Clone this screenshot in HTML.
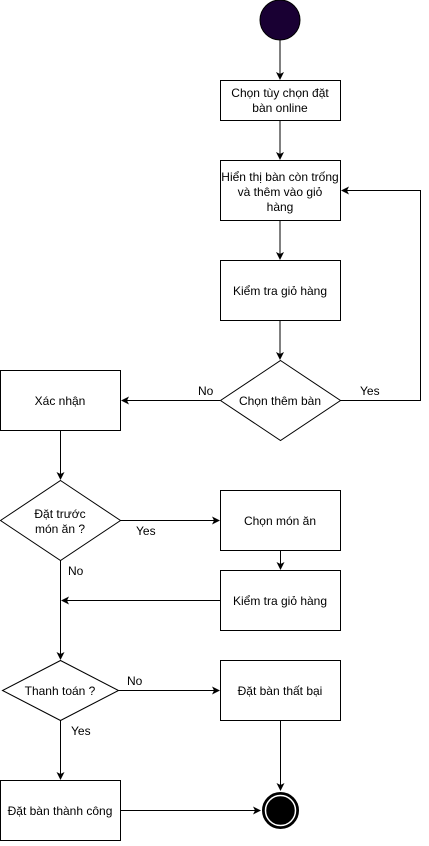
<!DOCTYPE html>
<html><head><meta charset="utf-8"><style>
body{margin:0;background:#fff;}
svg text{font-family:"Liberation Sans",Arial,sans-serif;font-size:12px;fill:#000;}
</style></head><body>
<svg width="429" height="841" viewBox="0 0 429 841" xmlns="http://www.w3.org/2000/svg">
<defs><marker id="a" markerWidth="8" markerHeight="8" refX="7" refY="4" orient="auto" markerUnits="userSpaceOnUse"><path d="M0,0 L8,4 L0,8 L2,4 Z" fill="#000"/></marker></defs>
<g fill="none" stroke="#000" stroke-width="1">
<circle cx="280" cy="20" r="20" fill="#190033"/>
<line x1="280" y1="40" x2="280" y2="79" marker-end="url(#a)"/>
<rect x="220.5" y="80.5" width="120" height="40" fill="#fff"/>
<line x1="280" y1="120" x2="280" y2="159" marker-end="url(#a)"/>
<rect x="220.5" y="160.5" width="120" height="60" fill="#fff"/>
<line x1="280" y1="220" x2="280" y2="259" marker-end="url(#a)"/>
<rect x="220.5" y="260.5" width="120" height="60" fill="#fff"/>
<line x1="280" y1="320" x2="280" y2="359" marker-end="url(#a)"/>
<polygon points="280.5,360.5 340.5,400.5 280.5,440.5 220.5,400.5" fill="#fff"/>
<polyline points="340.5,400.5 420.5,400.5 420.5,190.5 342,190.5" marker-end="url(#a)"/>
<line x1="220" y1="400.5" x2="122" y2="400.5" marker-end="url(#a)"/>
<rect x="0.5" y="370.5" width="120" height="60" fill="#fff"/>
<line x1="60.5" y1="430" x2="60.5" y2="479" marker-end="url(#a)"/>
<polygon points="60.5,480.5 120.5,520.5 60.5,560.5 0.5,520.5" fill="#fff"/>
<line x1="120" y1="520.5" x2="219" y2="520.5" marker-end="url(#a)"/>
<rect x="220.5" y="490.5" width="120" height="60" fill="#fff"/>
<line x1="280.5" y1="550" x2="280.5" y2="569" marker-end="url(#a)"/>
<rect x="220.5" y="570.5" width="120" height="60" fill="#fff"/>
<line x1="220" y1="600.5" x2="62" y2="600.5" marker-end="url(#a)"/>
<line x1="60.5" y1="560" x2="60.5" y2="659" marker-end="url(#a)"/>
<polygon points="60.5,660.5 118.5,690.5 60.5,720.5 2.5,690.5" fill="#fff"/>
<line x1="118" y1="690.5" x2="219" y2="690.5" marker-end="url(#a)"/>
<rect x="220.5" y="660.5" width="120" height="60" fill="#fff"/>
<line x1="60.5" y1="720" x2="60.5" y2="779" marker-end="url(#a)"/>
<rect x="0.5" y="780.5" width="120" height="60" fill="#fff"/>
<line x1="280.5" y1="720" x2="280.5" y2="790" marker-end="url(#a)"/>
<line x1="120" y1="810.5" x2="260" y2="810.5" marker-end="url(#a)"/>
<circle cx="280.5" cy="810.5" r="18" fill="#000"/>
<circle cx="280.5" cy="810.5" r="15" fill="#000" stroke="#fff" stroke-width="1.5"/>
</g>
<g text-anchor="middle">
<text x="280" y="97">Chọn tùy chọn đặt</text>
<text x="280" y="112">bàn online</text>
<text x="280" y="181">Hiển thị bàn còn trống</text>
<text x="280" y="196">và thêm vào giỏ</text>
<text x="280" y="211">hàng</text>
<text x="280" y="295">Kiểm tra giỏ hàng</text>
<text x="280" y="405">Chọn thêm bàn</text>
<text x="60" y="405">Xác nhận</text>
<text x="60" y="518">Đặt trước</text>
<text x="60" y="533">món ăn ?</text>
<text x="280" y="525">Chọn món ăn</text>
<text x="280" y="605">Kiểm tra giỏ hàng</text>
<text x="60" y="695">Thanh toán ?</text>
<text x="280" y="695">Đặt bàn thất bại</text>
<text x="60" y="815">Đặt bàn thành công</text>
</g>
<text x="198" y="395">No</text>
<text x="360" y="395">Yes</text>
<text x="136" y="535">Yes</text>
<text x="68" y="575">No</text>
<text x="127" y="685">No</text>
<text x="71" y="735">Yes</text>
</svg>
</body></html>
